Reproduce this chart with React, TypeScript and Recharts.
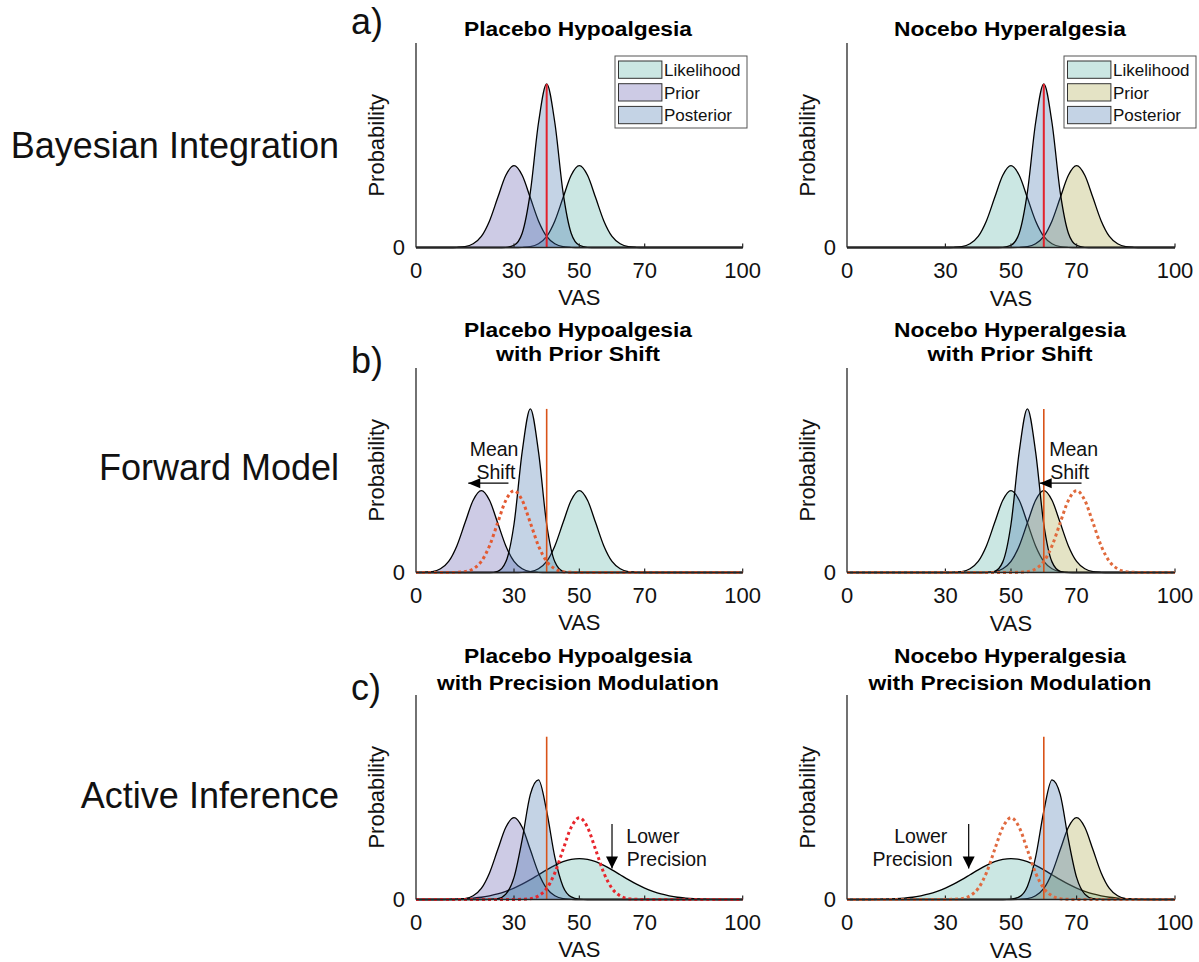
import { ComposedChart, Area, Line, XAxis, YAxis, ReferenceLine, ReferenceDot } from 'recharts';

const FONT = '"Liberation Sans", Arial, Helvetica, sans-serif';
const INK = '#111111';
const AXIS = '#262626';

// shared VAS grid (x values) for every panel
const VAS = [
  0, 2.5, 5, 7.5, 10, 12.5, 15, 17.5, 20, 22.5, 25, 27.5, 30, 32.5, 35, 37.5, 40, 42.5, 45, 47.5,
  50, 52.5, 55, 57.5, 60, 62.5, 65, 67.5, 70, 72.5, 75, 77.5, 80, 82.5, 85, 87.5, 90, 92.5, 95, 97.5, 100,
];
const X_TICKS = [0, 30, 50, 70, 100];

// a) Bayesian integration
const aLikelihood = [
  0, 0, 0, 0, 0, 0, 0, 0, 0, 0, 0, 0, 0,
  0.001, 0.004, 0.018, 0.054, 0.13, 0.243, 0.353, 0.4, 0.353, 0.243, 0.13, 0.054, 0.018, 0.004, 0.001,
  0, 0, 0, 0, 0, 0, 0, 0, 0, 0, 0, 0, 0,
];
const aPlaceboPrior = [
  0, 0, 0, 0, 0,
  0.001, 0.004, 0.018, 0.054, 0.13, 0.243, 0.353, 0.4, 0.353, 0.243, 0.13, 0.054, 0.018, 0.004, 0.001,
  0, 0, 0, 0, 0, 0, 0, 0, 0, 0, 0, 0, 0, 0, 0, 0, 0, 0, 0, 0, 0,
];
const aPlaceboPosterior = [
  0, 0, 0, 0, 0, 0, 0, 0, 0, 0, 0,
  0.001, 0.011, 0.07, 0.271, 0.61, 0.8, 0.61, 0.271, 0.07, 0.011, 0.001,
  0, 0, 0, 0, 0, 0, 0, 0, 0, 0, 0, 0, 0, 0, 0, 0, 0, 0, 0,
];
const aNoceboPrior = [
  0, 0, 0, 0, 0, 0, 0, 0, 0, 0, 0, 0, 0, 0, 0, 0, 0, 0, 0, 0, 0,
  0.001, 0.004, 0.018, 0.054, 0.13, 0.243, 0.353, 0.4, 0.353, 0.243, 0.13, 0.054, 0.018, 0.004, 0.001,
  0, 0, 0, 0, 0,
];
const aNoceboPosterior = [
  0, 0, 0, 0, 0, 0, 0, 0, 0, 0, 0, 0, 0, 0, 0, 0, 0, 0, 0,
  0.001, 0.011, 0.07, 0.271, 0.61, 0.8, 0.61, 0.271, 0.07, 0.011, 0.001,
  0, 0, 0, 0, 0, 0, 0, 0, 0, 0, 0,
];

// b) forward model (prior shift)
const bPlaceboPrior = [
  0,
  0.001, 0.004, 0.018, 0.054, 0.13, 0.243, 0.353, 0.4, 0.353, 0.243, 0.13, 0.054, 0.018, 0.004, 0.001,
  0, 0, 0, 0, 0, 0, 0, 0, 0, 0, 0, 0, 0, 0, 0, 0, 0, 0, 0, 0, 0, 0, 0, 0, 0,
];
const bPlaceboPosterior = [
  0, 0, 0, 0, 0, 0, 0, 0, 0, 0,
  0.006, 0.052, 0.236, 0.59, 0.8, 0.59, 0.236, 0.052, 0.006,
  0, 0, 0, 0, 0, 0, 0, 0, 0, 0, 0, 0, 0, 0, 0, 0, 0, 0, 0, 0, 0, 0,
];
const bNoceboPrior = [
  0, 0, 0, 0, 0, 0, 0, 0, 0, 0, 0, 0, 0, 0, 0, 0, 0,
  0.001, 0.004, 0.018, 0.054, 0.13, 0.243, 0.353, 0.4, 0.353, 0.243, 0.13, 0.054, 0.018, 0.004, 0.001,
  0, 0, 0, 0, 0, 0, 0, 0, 0,
];
const bNoceboPosterior = [
  0, 0, 0, 0, 0, 0, 0, 0, 0, 0, 0, 0, 0, 0, 0, 0, 0, 0,
  0.006, 0.052, 0.236, 0.59, 0.8, 0.59, 0.236, 0.052, 0.006,
  0, 0, 0, 0, 0, 0, 0, 0, 0, 0, 0, 0, 0, 0,
];
const bPlaceboOldPrior = aPlaceboPrior;
const bNoceboOldPrior = aNoceboPrior;

// c) active inference (precision modulation)
const cLikelihood = [
  0, 0, 0, 0,
  0.001, 0.002, 0.004, 0.007, 0.011, 0.018, 0.027, 0.04, 0.056, 0.075, 0.097, 0.121, 0.145, 0.167, 0.185, 0.196,
  0.2, 0.196, 0.185, 0.167, 0.145, 0.121, 0.097, 0.075, 0.056, 0.04, 0.027, 0.018, 0.011, 0.007, 0.004, 0.002, 0.001,
  0, 0, 0, 0,
];
const cPlaceboPosterior = [
  0, 0, 0, 0, 0, 0, 0, 0, 0,
  0.001, 0.004, 0.026, 0.108, 0.293, 0.514, 0.585, 0.432, 0.207, 0.064, 0.013, 0.002,
  0, 0, 0, 0, 0, 0, 0, 0, 0, 0, 0, 0, 0, 0, 0, 0, 0, 0, 0, 0,
];
const cNoceboPosterior = [
  0, 0, 0, 0, 0, 0, 0, 0, 0, 0, 0, 0, 0, 0, 0, 0, 0, 0, 0, 0,
  0.002, 0.013, 0.064, 0.207, 0.432, 0.585, 0.514, 0.293, 0.108, 0.026, 0.004, 0.001,
  0, 0, 0, 0, 0, 0, 0, 0, 0,
];
const cOldLikelihood = aLikelihood;

const FILL = {
  likelihood: '#52afa2',
  placeboPrior: '#5a52aa',
  noceboPrior: '#a5a23e',
  posterior: '#3c6eaa',
};
const ALPHA = 0.3;
const RED = '#e3212b';
const ORANGE = '#d95319';

const PLOT_H = 204.5;
const TOP_PAD = 10;
const X_AXIS_H = 68;
const Y_AXIS_W = 80;
const RIGHT_PAD = 22;

type AreaSpec = { name: string; values: number[]; fill: string };
type Note = { x: number; y: number; text: string };
type PanelSpec = {
  id: string;
  left: number;
  top: number;
  plotWidth: number;
  areas: AreaSpec[];
  dotted?: { values: number[]; color: string };
  percept: { x: number; top: number; color: string; width: number };
  arrow?: { from: [number, number]; to: [number, number]; dir: 'left' | 'down' };
  notes?: Note[];
};

const likelihood = (values: number[]) => ({ name: 'likelihood', values, fill: FILL.likelihood });
const placeboPrior = (values: number[]) => ({ name: 'prior', values, fill: FILL.placeboPrior });
const noceboPrior = (values: number[]) => ({ name: 'prior', values, fill: FILL.noceboPrior });
const posterior = (values: number[]) => ({ name: 'posterior', values, fill: FILL.posterior });

const PANELS: PanelSpec[] = [
  {
    id: 'aL', left: 416, top: 42.7, plotWidth: 326.7,
    areas: [likelihood(aLikelihood), placeboPrior(aPlaceboPrior), posterior(aPlaceboPosterior)],
    percept: { x: 40, top: 0.8, color: RED, width: 2 },
  },
  {
    id: 'aR', left: 847.3, top: 42.7, plotWidth: 328,
    areas: [likelihood(aLikelihood), noceboPrior(aNoceboPrior), posterior(aNoceboPosterior)],
    percept: { x: 60, top: 0.8, color: RED, width: 2 },
  },
  {
    id: 'bL', left: 416, top: 368.3, plotWidth: 326.7,
    areas: [likelihood(aLikelihood), placeboPrior(bPlaceboPrior), posterior(bPlaceboPosterior)],
    dotted: { values: bPlaceboOldPrior, color: '#e35a32' },
    percept: { x: 40, top: 0.8, color: ORANGE, width: 1.6 },
    arrow: { from: [28.3, 0.437], to: [16, 0.437], dir: 'left' },
    notes: [{ x: 23.9, y: 0.569, text: 'Mean' }, { x: 24.5, y: 0.455, text: 'Shift' }],
  },
  {
    id: 'bR', left: 847.3, top: 368.3, plotWidth: 328,
    areas: [likelihood(aLikelihood), noceboPrior(bNoceboPrior), posterior(bNoceboPosterior)],
    dotted: { values: bNoceboOldPrior, color: '#e06a3c' },
    percept: { x: 60, top: 0.8, color: ORANGE, width: 1.6 },
    arrow: { from: [71.5, 0.437], to: [58.75, 0.437], dir: 'left' },
    notes: [{ x: 69.1, y: 0.569, text: 'Mean' }, { x: 67.9, y: 0.455, text: 'Shift' }],
  },
  {
    id: 'cL', left: 416, top: 695, plotWidth: 326.7,
    areas: [likelihood(cLikelihood), placeboPrior(aPlaceboPrior), posterior(cPlaceboPosterior)],
    dotted: { values: cOldLikelihood, color: '#e8262d' },
    percept: { x: 40, top: 0.796, color: ORANGE, width: 1.6 },
    arrow: { from: [60, 0.369], to: [60, 0.152], dir: 'down' },
    notes: [{ x: 72.5, y: 0.274, text: 'Lower' }, { x: 76.8, y: 0.163, text: 'Precision' }],
  },
  {
    id: 'cR', left: 847.3, top: 695, plotWidth: 328,
    areas: [likelihood(cLikelihood), noceboPrior(aNoceboPrior), posterior(cNoceboPosterior)],
    dotted: { values: cOldLikelihood, color: '#e06a40' },
    percept: { x: 60, top: 0.796, color: ORANGE, width: 1.6 },
    arrow: { from: [37.1, 0.369], to: [37.1, 0.152], dir: 'down' },
    notes: [{ x: 22.5, y: 0.274, text: 'Lower' }, { x: 20.0, y: 0.163, text: 'Precision' }],
  },
];

const arrowHead = (dir: 'left' | 'down') => (p: any) =>
  dir === 'left'
    ? <path d={`M${p.cx},${p.cy} l12,-5 l0,10 z`} fill="#000" />
    : <path d={`M${p.cx},${p.cy} l-6,-12 l12,0 z`} fill="#000" />;

const noteText = (text: string) => (p: any) => (
  <text x={p.cx} y={p.cy} textAnchor="middle" fontFamily={FONT} fontSize={19.5} fill={INK}>{text}</text>
);

function Panel({ spec }: { spec: PanelSpec }) {
  const rows = VAS.map((x, i) => {
    const row: Record<string, number> = { x };
    spec.areas.forEach(a => { row[a.name] = a.values[i]; });
    if (spec.dotted) row.dotted = spec.dotted.values[i];
    return row;
  });
  const width = Y_AXIS_W + spec.plotWidth + RIGHT_PAD;
  const p = spec.percept;
  return (
    <div style={{ position: 'absolute', left: spec.left - Y_AXIS_W, top: spec.top - TOP_PAD }}>
      <ComposedChart
        width={width}
        height={TOP_PAD + PLOT_H + X_AXIS_H}
        data={rows}
        margin={{ top: TOP_PAD, right: RIGHT_PAD, bottom: 0, left: 0 }}
      >
        <XAxis
          dataKey="x"
          type="number"
          domain={[0, 100]}
          ticks={X_TICKS}
          interval={0}
          height={X_AXIS_H}
          tickLine={false}
          tickSize={0}
          tickMargin={15}
          axisLine={{ stroke: AXIS, strokeWidth: 1.3 }}
          tick={{ fontSize: 22, fill: INK, fontFamily: FONT }}
          label={{ value: 'VAS', position: 'insideBottom', offset: 10, fontSize: 22, fill: INK, fontFamily: FONT }}
        />
        <YAxis
          type="number"
          domain={[0, 1]}
          ticks={[0]}
          width={Y_AXIS_W}
          tickLine={false}
          tickSize={0}
          tickMargin={11}
          axisLine={{ stroke: AXIS, strokeWidth: 1.3 }}
          tick={{ fontSize: 22, fill: INK, fontFamily: FONT }}
          label={{ value: 'Probability', angle: -90, position: 'center', fontSize: 22, fill: INK, fontFamily: FONT }}
        />
        {spec.areas.map(a => (
          <Area
            key={a.name}
            type="monotone"
            dataKey={a.name}
            fill={a.fill}
            fillOpacity={ALPHA}
            stroke="#000"
            strokeWidth={1.3}
            dot={false}
            activeDot={false}
            isAnimationActive={false}
          />
        ))}
        {X_TICKS.slice(1).map(t => (
          <ReferenceLine key={t} segment={[{ x: t, y: 0 }, { x: t, y: 0.02 }]} stroke={AXIS} strokeWidth={1.2} />
        ))}
        <ReferenceLine segment={[{ x: p.x, y: 0 }, { x: p.x, y: p.top }]} stroke={p.color} strokeWidth={p.width} />
        {spec.dotted && (
          <Line
            type="monotone"
            dataKey="dotted"
            stroke={spec.dotted.color}
            strokeWidth={3}
            strokeDasharray="3 3"
            dot={false}
            activeDot={false}
            isAnimationActive={false}
          />
        )}
        {spec.arrow && (
          <ReferenceLine
            segment={[{ x: spec.arrow.from[0], y: spec.arrow.from[1] }, { x: spec.arrow.to[0], y: spec.arrow.to[1] }]}
            stroke="#000"
            strokeWidth={1.2}
          />
        )}
        {spec.arrow && (
          <ReferenceDot x={spec.arrow.to[0]} y={spec.arrow.to[1]} r={0} shape={arrowHead(spec.arrow.dir)} />
        )}
        {(spec.notes || []).map(n => (
          <ReferenceDot key={n.text} x={n.x} y={n.y} r={0} shape={noteText(n.text)} />
        ))}
      </ComposedChart>
    </div>
  );
}

const ROW_LABELS = [
  { text: 'Bayesian Integration', y: 158 },
  { text: 'Forward Model', y: 480 },
  { text: 'Active Inference', y: 808 },
];
const LETTERS = [
  { text: 'a)', y: 34 },
  { text: 'b)', y: 373 },
  { text: 'c)', y: 700 },
];
const TITLES = [
  { x: 578, lines: ['Placebo Hypoalgesia'], ys: [36], lens: [228] },
  { x: 1010, lines: ['Nocebo Hyperalgesia'], ys: [36], lens: [232] },
  { x: 578, lines: ['Placebo Hypoalgesia', 'with Prior Shift'], ys: [336.7, 360.7], lens: [228, 164] },
  { x: 1010, lines: ['Nocebo Hyperalgesia', 'with Prior Shift'], ys: [336.7, 360.7], lens: [232, 165] },
  { x: 578, lines: ['Placebo Hypoalgesia', 'with Precision Modulation'], ys: [663.3, 690], lens: [228, 282] },
  { x: 1010, lines: ['Nocebo Hyperalgesia', 'with Precision Modulation'], ys: [663.3, 690], lens: [232, 283] },
];
const LEGENDS = [
  { x: 615, y: 56, entries: [['Likelihood', FILL.likelihood], ['Prior', FILL.placeboPrior], ['Posterior', FILL.posterior]] },
  { x: 1064, y: 56, entries: [['Likelihood', FILL.likelihood], ['Prior', FILL.noceboPrior], ['Posterior', FILL.posterior]] },
];

function Overlay() {
  return (
    <svg width={1199} height={962} style={{ position: 'absolute', left: 0, top: 0, pointerEvents: 'none' }}>
      {ROW_LABELS.map(r => (
        <text key={r.text} x={339} y={r.y} textAnchor="end" fontFamily={FONT} fontSize={36} fill={INK}>{r.text}</text>
      ))}
      {LETTERS.map(l => (
        <text key={l.text} x={351} y={l.y} fontFamily={FONT} fontSize={36} fill={INK}>{l.text}</text>
      ))}
      {TITLES.map((t, ti) => t.lines.map((line, li) => (
        <text
          key={`${ti}-${li}`}
          x={t.x}
          y={t.ys[li]}
          textAnchor="middle"
          fontFamily={FONT}
          fontWeight="bold"
          fontSize={20}
          textLength={t.lens[li]}
          lengthAdjust="spacingAndGlyphs"
          fill="#000"
        >
          {line}
        </text>
      )))}
      {LEGENDS.map((lg, li) => (
        <g key={li}>
          <rect x={lg.x} y={lg.y} width={132} height={72} fill="#fff" stroke="#555" strokeWidth={1} />
          {lg.entries.map(([label, color], ei) => (
            <g key={label}>
              <rect x={lg.x + 3.5} y={lg.y + 5 + ei * 22.7} width={43.4} height={17.3} fill="#fff" />
              <rect
                x={lg.x + 3.5}
                y={lg.y + 5 + ei * 22.7}
                width={43.4}
                height={17.3}
                fill={color}
                fillOpacity={ALPHA}
                stroke="#333"
                strokeWidth={1}
              />
              <text x={lg.x + 49} y={lg.y + 19.8 + ei * 22.7} fontFamily={FONT} fontSize={17} fill={INK}>{label}</text>
            </g>
          ))}
        </g>
      ))}
    </svg>
  );
}

export default function App() {
  return (
    <div style={{ position: 'absolute', left: 0, top: 0, width: 1199, height: 962, overflow: 'hidden', background: '#fff' }}>
      {PANELS.map(spec => <Panel key={spec.id} spec={spec} />)}
      <Overlay />
    </div>
  );
}
